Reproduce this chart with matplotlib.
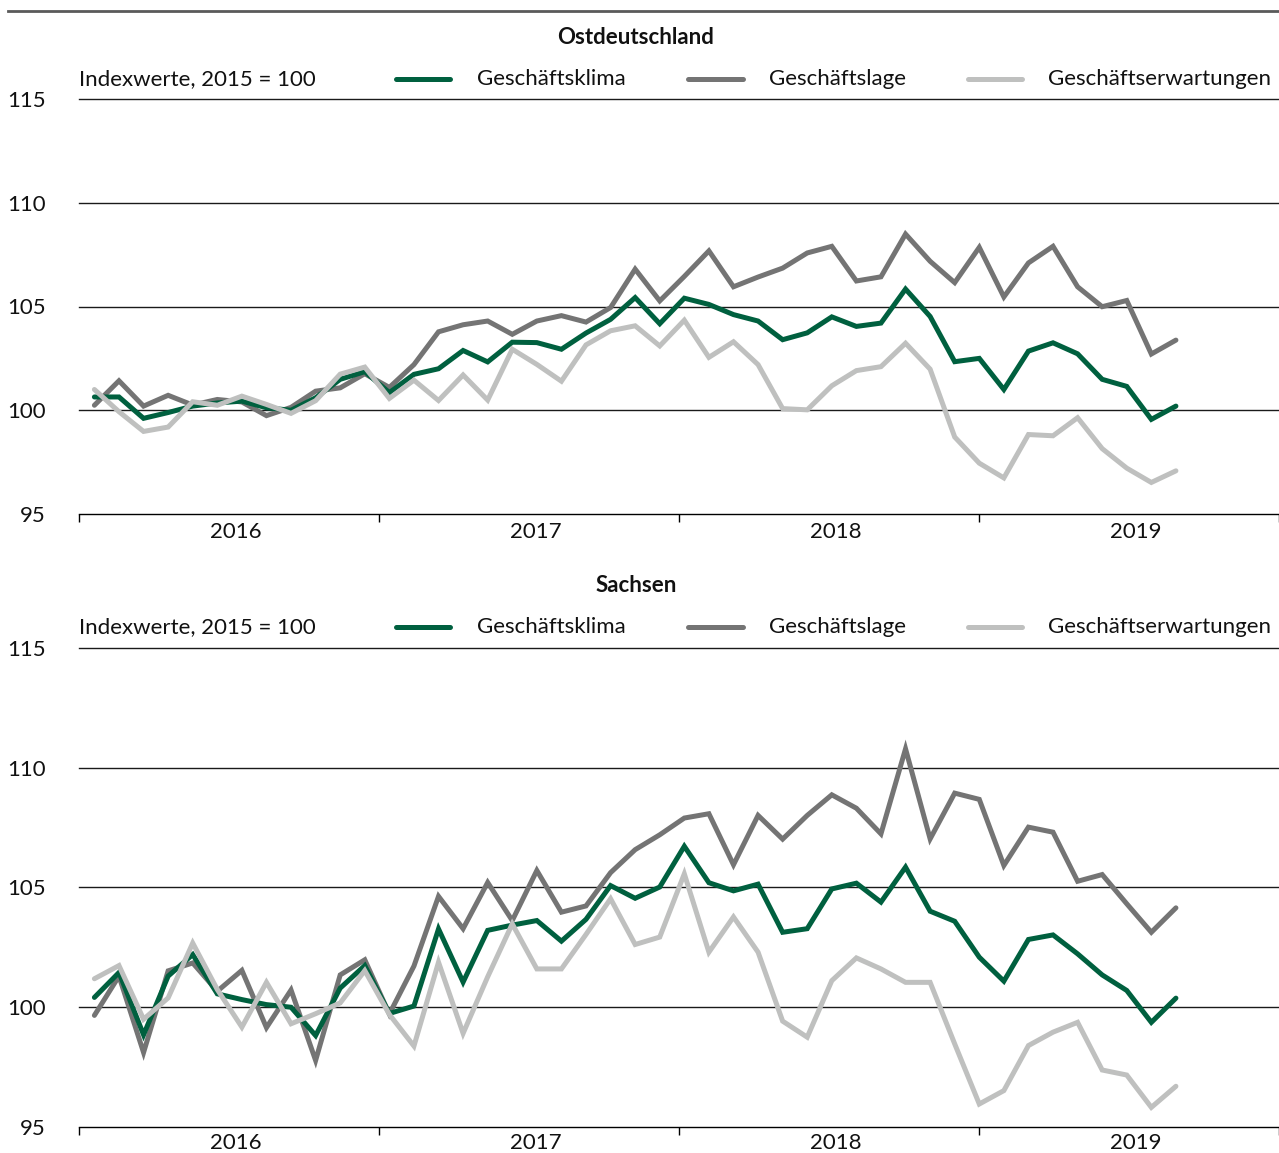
import matplotlib
matplotlib.use("Agg")
import matplotlib.pyplot as plt
from matplotlib.lines import Line2D
import numpy as np
import pandas as pd

# ---------------- data ----------------
months = pd.period_range("2016-01", "2019-09", freq="M").astype(str).tolist()
years = ["2016", "2017", "2018", "2019"]
y_ticks = [95, 100, 105, 110, 115]
series_names = ["Geschäftsklima", "Geschäftslage", "Geschäftserwartungen"]
unit_label = "Indexwerte, 2015 = 100"
panel_titles = ["Ostdeutschland", "Sachsen"]

ost_klima = [100.64, 100.64, 99.61, 99.89, 100.2, 100.35, 100.44, 100.12, 100.0, 100.6,
             101.49, 101.86, 100.85, 101.73, 102.0, 102.88, 102.33, 103.28, 103.26, 102.94,
             103.72, 104.38, 105.43, 104.17, 105.4, 105.1, 104.61, 104.3, 103.4, 103.73,
             104.5, 104.04, 104.2, 105.84, 104.52, 102.34, 102.5, 101.0, 102.85, 103.25,
             102.72, 101.49, 101.15, 99.56, 100.2]
ost_lage = [100.24, 101.42, 100.2, 100.72, 100.25, 100.52, 100.4, 99.74, 100.14, 100.92,
            101.08, 101.76, 101.1, 102.2, 103.78, 104.12, 104.3, 103.66, 104.3, 104.56,
            104.25, 104.95, 106.8, 105.27, 106.45, 107.68, 105.95, 106.42, 106.85, 107.58,
            107.9, 106.23, 106.43, 108.49, 107.18, 106.15, 107.85, 105.46, 107.1, 107.9,
            105.95, 104.99, 105.29, 102.71, 103.38]
ost_erw = [101.0, 99.93, 98.98, 99.19, 100.41, 100.24, 100.68, 100.28, 99.85, 100.46,
           101.74, 102.08, 100.57, 101.45, 100.47, 101.7, 100.49, 102.94, 102.21, 101.4,
           103.15, 103.83, 104.07, 103.1, 104.34, 102.55, 103.3, 102.2, 100.08, 100.02,
           101.18, 101.91, 102.1, 103.23, 101.98, 98.71, 97.45, 96.74, 98.83, 98.77,
           99.64, 98.15, 97.21, 96.52, 97.08]

sac_klima = [100.41, 101.45, 98.85, 101.3, 102.2, 100.56, 100.32, 100.11, 100.0, 98.82,
             100.8, 101.74, 99.74, 100.05, 103.27, 101.05, 103.21, 103.43, 103.62, 102.76,
             103.67, 105.08, 104.55, 105.02, 106.72, 105.2, 104.86, 105.14, 103.13, 103.28,
             104.94, 105.18, 104.39, 105.85, 104.01, 103.59, 102.09, 101.09, 102.83, 103.02,
             102.23, 101.35, 100.7, 99.37, 100.38]
sac_lage = [99.66, 101.3, 98.11, 101.52, 101.85, 100.67, 101.54, 99.15, 100.72, 97.78,
            101.35, 101.98, 99.72, 101.72, 104.63, 103.28, 105.21, 103.62, 105.71, 103.97,
            104.23, 105.62, 106.58, 107.2, 107.9, 108.08, 105.95, 108.01, 107.02, 108.01,
            108.87, 108.31, 107.24, 110.79, 107.03, 108.94, 108.68, 105.92, 107.52, 107.31,
            105.26, 105.54, 104.32, 103.13, 104.15]
sac_erw = [101.19, 101.74, 99.5, 100.39, 102.68, 100.74, 99.17, 101.04, 99.31, 99.73,
           100.18, 101.53, 99.7, 98.38, 101.88, 98.91, 101.27, 103.48, 101.6, 101.6,
           103.04, 104.53, 102.62, 102.93, 105.57, 102.3, 103.77, 102.3, 99.42, 98.75,
           101.11, 102.06, 101.6, 101.04, 101.04, 98.47, 95.96, 96.52, 98.4, 98.96,
           99.37, 97.38, 97.17, 95.82, 96.7]

# ---------------- style ----------------
W, H, DPI = 1279, 1153, 100
FONT = ["Lato", "DejaVu Sans"]
FS = 16
plt.rcParams["font.family"] = FONT
colors = ["#00603F", "#747474", "#BFC0BF"]
LW = 3.6

def fx(px):
    return px / W

def fy(py):
    return 1 - py / H

fig = plt.figure(figsize=(W / DPI, H / DPI), dpi=DPI)

# top rule
fig.add_artist(Line2D([fx(8), fx(1279)], [fy(10.5), fy(10.5)], color="#5a5a5a",
                      lw=2.0, transform=fig.transFigure))

x = np.arange(len(months))
# pixel mapping of month positions: first month at px 94.4, spacing 24.58 px
x_first_px, x_step_px = 94.4, 24.58
ax_left_px, ax_right_px = 79, 1279
xlim = ((ax_left_px - x_first_px) / x_step_px, (ax_right_px - x_first_px) / x_step_px)

panels = [
    dict(title=panel_titles[0], data=[ost_klima, ost_lage, ost_erw],
         top=99, bottom=514, title_y=37, legend_y=79, pad=6.0),
    dict(title=panel_titles[1], data=[sac_klima, sac_lage, sac_erw],
         top=648, bottom=1127, title_y=585, legend_y=627, pad=4.5),
]

for p in panels:
    ax = fig.add_axes([fx(ax_left_px), fy(p["bottom"]),
                       fx(ax_right_px) - fx(ax_left_px), (p["bottom"] - p["top"]) / H])
    ax.set_xlim(*xlim)
    ax.set_ylim(95, 115)
    for s in ["top", "right", "left"]:
        ax.spines[s].set_visible(False)
    ax.spines["bottom"].set_color("#000000")
    ax.spines["bottom"].set_linewidth(1.0)
    for v in y_ticks[1:]:
        ax.axhline(v, color="#1a1a1a", lw=1.0, zorder=1, clip_on=False)

    klima, lage, erw = p["data"]
    ax.plot(x, lage, color=colors[1], lw=LW, zorder=3, solid_joinstyle="miter",
            solid_capstyle="round")
    ax.plot(x, klima, color=colors[0], lw=LW, zorder=4, solid_joinstyle="miter",
            solid_capstyle="round")
    ax.plot(x, erw, color=colors[2], lw=LW, zorder=5, solid_joinstyle="miter",
            solid_capstyle="round")

    ax.set_yticks(y_ticks)
    ax.set_yticklabels([str(v) for v in y_ticks], fontsize=FS, color="#111111")
    ax.tick_params(axis="y", length=0, pad=24.0)

    span = xlim[1] - xlim[0]
    major = [xlim[0] + span * k / 4 for k in range(5)]
    label_pos = [xlim[0] + span * (0.1308 + 0.25 * k) for k in range(4)]
    ax.set_xticks(major)
    ax.set_xticklabels([""] * 5)
    ax.set_xticks(label_pos, minor=True)
    ax.set_xticklabels(years, minor=True, fontsize=FS, color="#111111")
    ax.tick_params(axis="x", which="major", direction="out", length=6, width=1.0,
                   color="#000000")
    ax.tick_params(axis="x", which="minor", length=0, pad=p["pad"])

    # panel title
    fig.text(fx(636), fy(p["title_y"]), p["title"], ha="center", va="center",
             fontsize=FS, fontweight="bold", color="#111111")
    # legend row
    ly = fy(p["legend_y"])
    fig.text(fx(79), ly, unit_label, ha="left", va="center", fontsize=FS, color="#111111")
    handles = [(393, 452, 477), (686, 745, 769), (965, 1024, 1048)]
    for (h0, h1, tx), c, name in zip(handles, colors, series_names):
        fig.add_artist(Line2D([fx(h0 + 2.5), fx(h1 - 2.5)], [ly, ly], color=c, lw=LW,
                              solid_capstyle="round", transform=fig.transFigure))
        fig.text(fx(tx), ly, name, ha="left", va="center", fontsize=FS, color="#111111")

fig.savefig("out.png", dpi=DPI)
